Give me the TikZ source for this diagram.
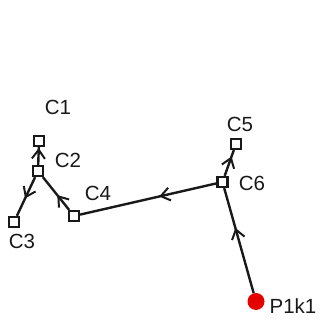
\documentclass[tikz,border=0pt]{standalone}
\usepackage{fontspec}
\setmainfont{Liberation Sans}
\usetikzlibrary{arrows.meta,decorations.markings}
\begin{document}
\begin{tikzpicture}[x=1pt,y=-1pt,
  sq/.style={draw=black!90, line width=2.2pt, fill=white, minimum size=10pt, inner sep=0pt},
  lbl/.style={font=\fontsize{20.5}{20.5}\selectfont, inner sep=0pt, text=black!90},
  edge/.style={line width=2.4pt, draw=black!90, postaction={decorate},
    decoration={markings, mark=at position #1 with {\arrow{Straight Barb[length=9pt,width=13pt,line width=2pt]}}}},
  edge/.default=0.5]
\useasboundingbox (0,0) rectangle (322,320);
\node[sq] (C1) at (39,141) {};
\node[sq] (C2) at (38,171) {};
\node[sq] (C3) at (14,222) {};
\node[sq] (C4) at (74,216) {};
\node[sq] (C5) at (236,144) {};
\node[sq] (C6) at (222.5,182) {};
\node[circle, fill=red!90!black, minimum size=17pt, inner sep=0pt] (P) at (256,301.5) {};
\node[lbl] (L1) at (58,107.5) {C1};
\node[lbl] (L2) at (68,160.5) {C2};
\node[lbl] (L3) at (22,241) {C3};
\node[lbl] (L4) at (98,193.5) {C4};
\node[lbl] (L5) at (240,124.5) {C5};
\node[lbl] (L6) at (252,183.5) {C6};
\node[lbl] (LP) at (293,306) {P1k1};
\draw[edge=0.62] (P) -- (C6);
\draw[edge=0.75] (C6) -- (C5);
\draw[edge=0.42] (C6) -- (C4);
\draw[edge=0.45] (C4) -- (C2);
\draw[edge=0.55] (C2) -- (C3);
\draw[edge=0.95] (C2) -- (C1);
\end{tikzpicture}
\end{document}
